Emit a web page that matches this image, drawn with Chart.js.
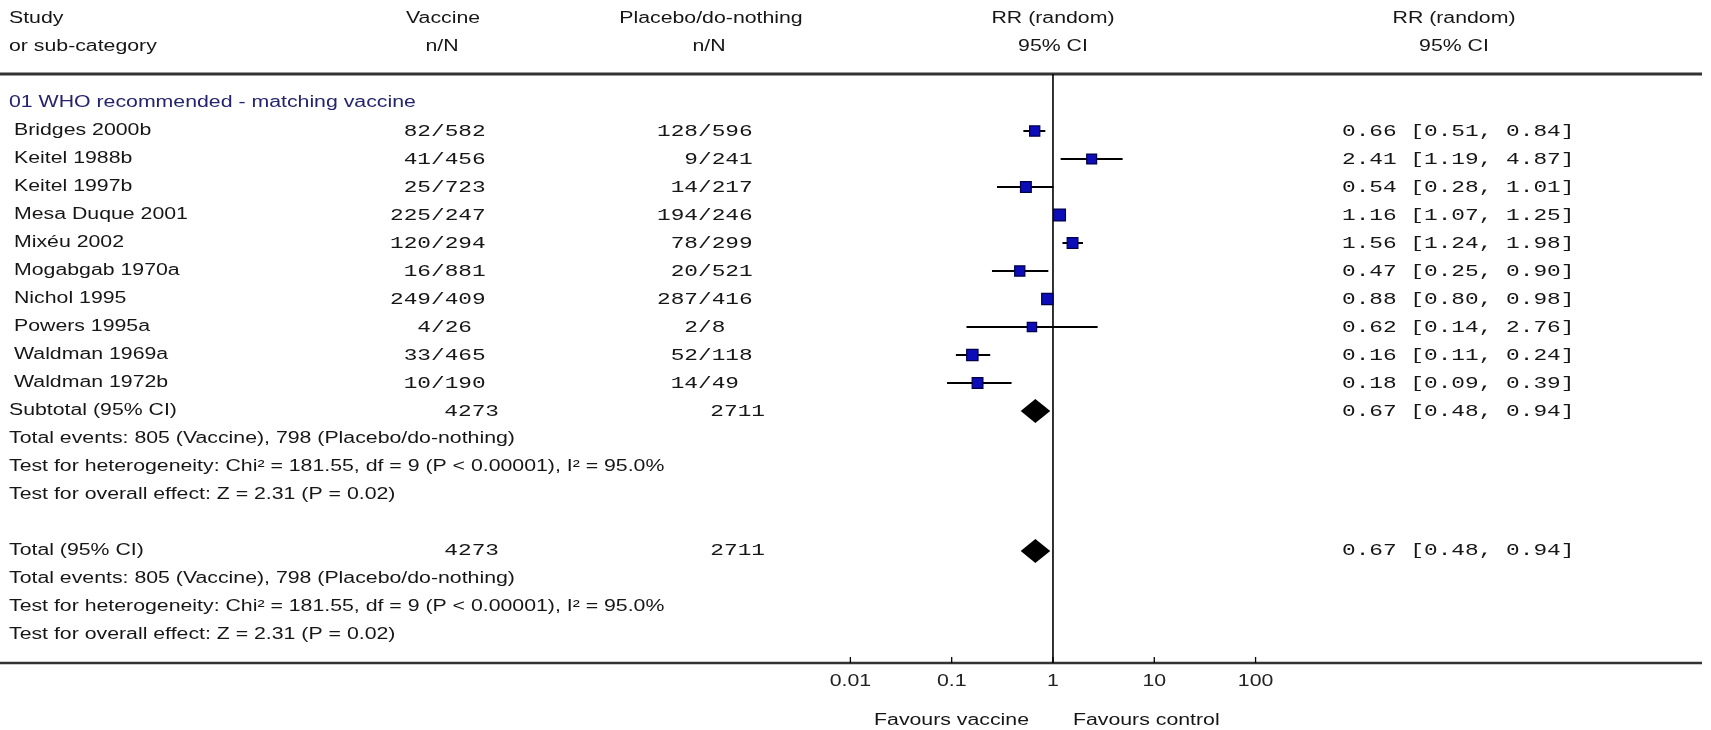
<!DOCTYPE html>
<html><head><meta charset="utf-8">
<script src="https://cdn.jsdelivr.net/npm/chart.js@4.4.1/dist/chart.umd.min.js"></script>
<style>html,body{margin:0;padding:0;background:#fff;}canvas{display:block;}</style>
</head><body>
<canvas id="c" width="1711" height="730"></canvas>
<script>
// ---- data ----
const groupLabel = "01 WHO recommended - matching vaccine";
const studies = ["Bridges 2000b","Keitel 1988b","Keitel 1997b","Mesa Duque 2001","Mixéu 2002","Mogabgab 1970a","Nichol 1995","Powers 1995a","Waldman 1969a","Waldman 1972b"];
const vaccineNN = ["82/582","41/456","25/723","225/247","120/294","16/881","249/409","4/26","33/465","10/190"];
const placeboNN = ["128/596","9/241","14/217","194/246","78/299","20/521","287/416","2/8","52/118","14/49"];
const rr     = [0.66,2.41,0.54,1.16,1.56,0.47,0.88,0.62,0.16,0.18];
const rrLow  = [0.51,1.19,0.28,1.07,1.24,0.25,0.80,0.14,0.11,0.09];
const rrHigh = [0.84,4.87,1.01,1.25,1.98,0.90,0.98,2.76,0.24,0.39];
const pooledRR = 0.67, pooledLow = 0.48, pooledHigh = 0.94;
const vaccineTotal = "4273", placeboTotal = "2711";
const totalEvents = "Total events: 805 (Vaccine), 798 (Placebo/do-nothing)";
const heteroText = "Test for heterogeneity: Chi² = 181.55, df = 9 (P < 0.00001), I² = 95.0%";
const overallText = "Test for overall effect: Z = 2.31 (P = 0.02)";
const xTicks = [0.01, 0.1, 1, 10, 100];
const xTickLabels = ["0.01","0.1","1","10","100"];

// ---- layout helpers (row index -> y through y scale) ----
const SANS = '16px "Liberation Sans", Arial, sans-serif';
const MONO = '17px "Liberation Mono", "Courier New", monospace';
const SX_SANS = 1.33, SX_MONO = 1.34;
const ROW_SUB = 11, ROW_TOTAL = 16, ROW_AXIS = 20;

function txt(ctx, s, x, y, font, align, color, sx) {
  ctx.save();
  ctx.font = font; ctx.fillStyle = color; ctx.textBaseline = 'middle'; ctx.textAlign = align;
  ctx.translate(x, y); ctx.scale(sx, 1); ctx.fillText(s, 0, 0);
  ctx.restore();
}
function ciStr(e, l, h) { return e.toFixed(2) + " [" + l.toFixed(2) + ", " + h.toFixed(2) + "]"; }

const forestPlugin = {
  id: 'forest',
  beforeDatasetsDraw(chart) {
    const ctx = chart.ctx, xs = chart.scales.x, ys = chart.scales.y;
    const W = chart.width;
    const yHead = ys.getPixelForValue(-1.04), yAxis = ys.getPixelForValue(ROW_AXIS);
    const x1 = xs.getPixelForValue(1);
    ctx.save();
    ctx.strokeStyle = '#333'; ctx.lineWidth = 3;
    ctx.beginPath(); ctx.moveTo(0, yHead); ctx.lineTo(W - 9, yHead); ctx.stroke();
    ctx.lineWidth = 2.5;
    ctx.beginPath(); ctx.moveTo(0, yAxis); ctx.lineTo(W - 9, yAxis); ctx.stroke();
    ctx.strokeStyle = '#000'; ctx.lineWidth = 1.6;
    ctx.beginPath(); ctx.moveTo(x1, yHead); ctx.lineTo(x1, yAxis); ctx.stroke();
    ctx.lineWidth = 1.3;
    xTicks.forEach((t, i) => {
      const x = xs.getPixelForValue(t);
      ctx.beginPath(); ctx.moveTo(x, yAxis - 6); ctx.lineTo(x, yAxis); ctx.stroke();
      txt(ctx, xTickLabels[i], x, ys.getPixelForValue(ROW_AXIS + 0.68), SANS, 'center', '#222', SX_SANS);
    });
    ctx.restore();
  },
  afterDatasetsDraw(chart) {
    const ctx = chart.ctx, xs = chart.scales.x, ys = chart.scales.y;
    [ROW_SUB, ROW_TOTAL].forEach(r => {
      ctx.save();
      ctx.fillStyle = '#000';
      ctx.beginPath();
      ctx.moveTo(xs.getPixelForValue(pooledLow), ys.getPixelForValue(r));
      ctx.lineTo(xs.getPixelForValue(pooledRR), ys.getPixelForValue(r - 0.43));
      ctx.lineTo(xs.getPixelForValue(pooledHigh), ys.getPixelForValue(r));
      ctx.lineTo(xs.getPixelForValue(pooledRR), ys.getPixelForValue(r + 0.43));
      ctx.closePath(); ctx.fill();
      ctx.restore();
    });
  },
  afterDraw(chart) {
    const ctx = chart.ctx, xs = chart.scales.x, ys = chart.scales.y;
    const Y = r => ys.getPixelForValue(r);
    const C = '#161616', G = '#24246e';
    const x1 = xs.getPixelForValue(1);
    txt(ctx, "Study", 9, Y(-3), SANS, 'left', C, SX_SANS);
    txt(ctx, "or sub-category", 9, Y(-2), SANS, 'left', C, SX_SANS);
    txt(ctx, "Vaccine", 443, Y(-3), SANS, 'center', C, SX_SANS);
    txt(ctx, "n/N", 442, Y(-2), SANS, 'center', C, SX_SANS);
    txt(ctx, "Placebo/do-nothing", 711, Y(-3), SANS, 'center', C, SX_SANS);
    txt(ctx, "n/N", 709, Y(-2), SANS, 'center', C, SX_SANS);
    txt(ctx, "RR (random)", x1, Y(-3), SANS, 'center', C, SX_SANS);
    txt(ctx, "95% CI", x1, Y(-2), SANS, 'center', C, SX_SANS);
    txt(ctx, "RR (random)", 1454, Y(-3), SANS, 'center', C, SX_SANS);
    txt(ctx, "95% CI", 1454, Y(-2), SANS, 'center', C, SX_SANS);
    txt(ctx, groupLabel, 9, Y(0), SANS, 'left', G, SX_SANS);
    ctx.save(); ctx.font = MONO; const cw = ctx.measureText('0').width * SX_MONO; ctx.restore();
    const slashV = 431, slashP = 698;
    studies.forEach((s, i) => {
      const r = i + 1;
      txt(ctx, s, 14, Y(r), SANS, 'left', C, SX_SANS);
      const nv = vaccineNN[i].indexOf('/'), np = placeboNN[i].indexOf('/');
      txt(ctx, vaccineNN[i], slashV - nv * cw, Y(r), MONO, 'left', C, SX_MONO);
      txt(ctx, placeboNN[i], slashP - np * cw, Y(r), MONO, 'left', C, SX_MONO);
      txt(ctx, ciStr(rr[i], rrLow[i], rrHigh[i]), 1342, Y(r), MONO, 'left', C, SX_MONO);
    });
    [ROW_SUB, ROW_TOTAL].forEach((r, k) => {
      txt(ctx, k === 0 ? "Subtotal (95% CI)" : "Total (95% CI)", 9, Y(r), SANS, 'left', C, SX_SANS);
      txt(ctx, vaccineTotal, 499, Y(r), MONO, 'right', C, SX_MONO);
      txt(ctx, placeboTotal, 765, Y(r), MONO, 'right', C, SX_MONO);
      txt(ctx, ciStr(pooledRR, pooledLow, pooledHigh), 1342, Y(r), MONO, 'left', C, SX_MONO);
      txt(ctx, totalEvents, 9, Y(r + 1), SANS, 'left', C, SX_SANS);
      txt(ctx, heteroText, 9, Y(r + 2), SANS, 'left', C, SX_SANS);
      txt(ctx, overallText, 9, Y(r + 3), SANS, 'left', C, SX_SANS);
    });
    txt(ctx, "Favours vaccine", x1 - 24, Y(ROW_AXIS + 2.06), SANS, 'right', C, SX_SANS);
    txt(ctx, "Favours control", x1 + 20, Y(ROW_AXIS + 2.06), SANS, 'left', C, SX_SANS);
  }
};

const ciDatasets = studies.map((s, i) => ({
  label: s + ' CI',
  data: [{x: rrLow[i], y: i + 1}, {x: rrHigh[i], y: i + 1}],
  showLine: true, borderColor: '#000', borderWidth: 2, pointRadius: 0, order: 2
}));
const squareDataset = {
  label: 'RR',
  data: rr.map((v, i) => ({x: v, y: i + 1})),
  showLine: false, pointStyle: 'rect',
  pointRadius: [7.2, 7, 7.6, 8.4, 7.6, 7.2, 8, 6.6, 8, 7.6],
  backgroundColor: '#0c0cb8', borderColor: '#000048', borderWidth: 1.2, order: 1
};

new Chart(document.getElementById('c'), {
  type: 'scatter',
  data: { datasets: [squareDataset, ...ciDatasets] },
  options: {
    responsive: false, animation: false, events: [],
    layout: { padding: 0, autoPadding: false },
    plugins: { legend: { display: false }, tooltip: { enabled: false } },
    scales: {
      x: { type: 'logarithmic', display: false, bounds: 'data',
           min: Math.pow(10, -10.395), max: Math.pow(10, 6.496) },
      y: { type: 'linear', display: false, reverse: true, min: -3.679, max: 22.393 }
    }
  },
  plugins: [forestPlugin]
});
</script>
</body></html>
